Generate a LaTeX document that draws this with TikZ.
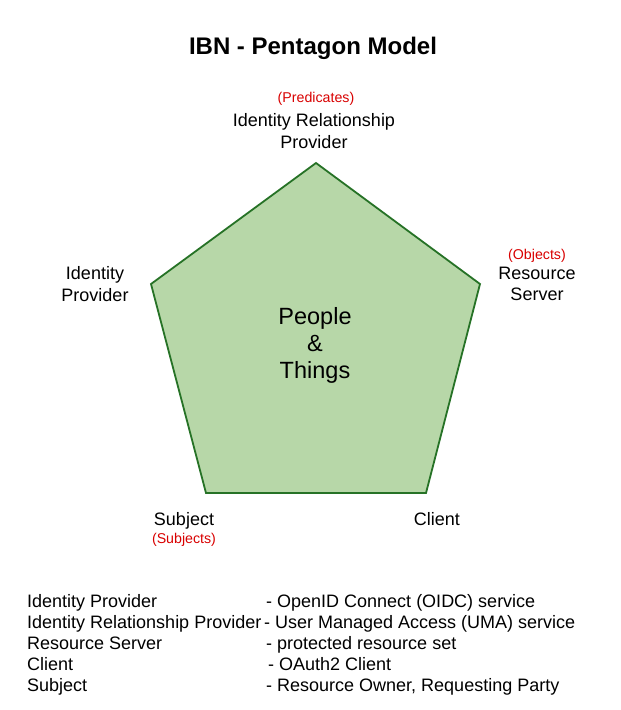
\documentclass[tikz,border=0pt]{standalone}
\usepackage{fontspec}
\setmainfont{Liberation Sans}
\begin{document}
\begin{tikzpicture}[x=1pt,y=-1pt,
  lbl/.style={align=center,inner sep=0pt,font=\fontsize{18}{21.5}\selectfont},
  single/.style={inner sep=0pt,text height=12.9pt,text depth=0pt,font=\fontsize{18}{21.5}\selectfont},
  note/.style={align=center,inner sep=0pt,text=red!85!black,font=\fontsize{14.2}{16}\selectfont},
  legend/.style={anchor=west,inner sep=0pt,text height=12.9pt,text depth=0pt,font=\fontsize{18}{21}\selectfont}]
\useasboundingbox (0,0) rectangle (621,710);
\fill[white] (0,0) rectangle (621,710);
\node[inner sep=0pt,font=\bfseries\fontsize{24}{28}\selectfont] (title) at (313,48) {IBN - Pentagon Model};
\coordinate (vt) at (316,163);
\coordinate (vl) at (151,284);
\coordinate (vr) at (480,284);
\coordinate (vbl) at (206,493);
\coordinate (vbr) at (426,493);
\draw[line width=1.8pt,draw=green!35!black!85,fill={rgb,255:red,183;green,215;blue,168},line join=miter]
  (vt) -- (vr) -- (vbr) -- (vbl) -- (vl) -- cycle;
\node[align=center,inner sep=0pt,font=\fontsize{23.5}{27}\selectfont] (center) at (315,345) {People\\\&\\Things};
\node[note] (pred) at (316,99) {(Predicates)};
\node[lbl] (irp) at (314,131) {Identity Relationship\\Provider};
\node[lbl] (idp) at (95,284) {Identity\\Provider};
\node[note] (obj) at (537,256) {(Objects)};
\node[lbl] (rs) at (537,284) {Resource\\Server};
\node[single] (subj) at (184,519) {Subject};
\node[note] (subjs) at (184,540) {(Subjects)};
\node[single] (client) at (437,519) {Client};
\node[legend] (l1) at (27,601) {Identity Provider};
\node[legend] (l2) at (27,622) {Identity Relationship Provider};
\node[legend] (l3) at (27,643) {Resource Server};
\node[legend] (l4) at (27,664) {Client};
\node[legend] (l5) at (27,685) {Subject};
\node[legend] (r1) at (266,601) {- OpenID Connect (OIDC) service};
\node[legend] (r2) at (264,622) {- User Managed Access (UMA) service};
\node[legend] (r3) at (266,643) {- protected resource set};
\node[legend] (r4) at (268,664) {- OAuth2 Client};
\node[legend] (r5) at (266,685) {- Resource Owner, Requesting Party};
\end{tikzpicture}
\end{document}
